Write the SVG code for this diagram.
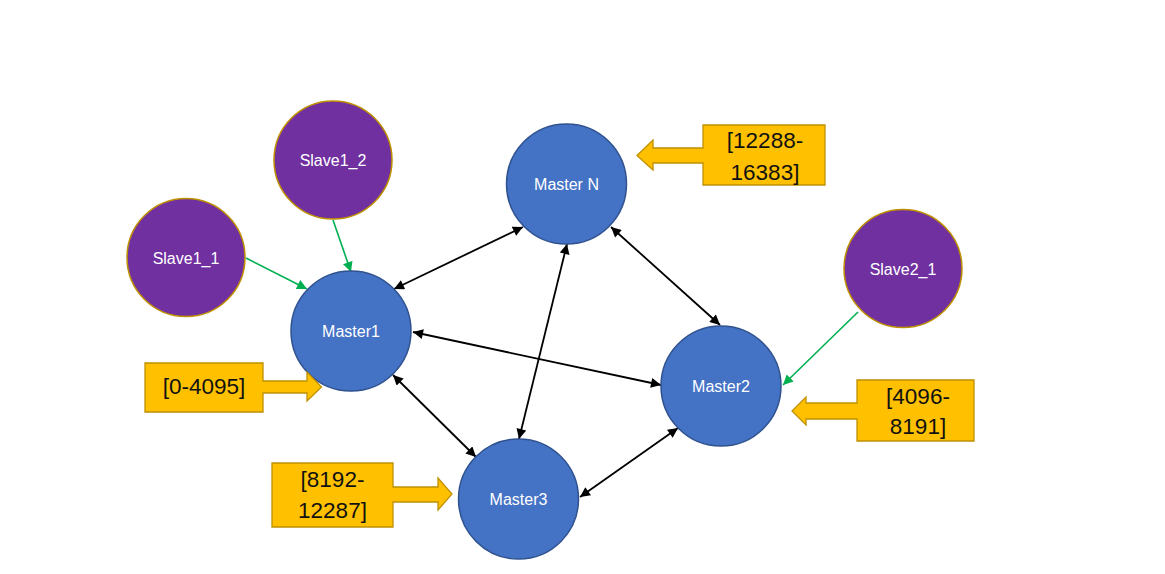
<svg xmlns="http://www.w3.org/2000/svg" width="1165" height="574" viewBox="0 0 1165 574">
<defs>
<marker id="ab" viewBox="0 0 10 10" refX="10" refY="5" markerWidth="11" markerHeight="10" markerUnits="userSpaceOnUse" orient="auto-start-reverse">
<path d="M0,0 L10,5 L0,10 Z" fill="#000"/>
</marker>
<marker id="ag" viewBox="0 0 10 10" refX="10" refY="5" markerWidth="11" markerHeight="10" markerUnits="userSpaceOnUse" orient="auto">
<path d="M0,0 L10,5 L0,10 Z" fill="#00B050"/>
</marker>
<style>
.master{fill:#4472C4;stroke:#2F528F;stroke-width:1.5}
.slave{fill:#7030A0;stroke:#BF9000;stroke-width:1.5}
.lbl{font-family:"Liberation Sans",Arial,sans-serif;font-size:16px;fill:#fff;text-anchor:middle}
.call{fill:#FFC000;stroke:#BF9000;stroke-width:1.3}
.ctxt{font-family:"Liberation Sans",Arial,sans-serif;font-size:22.5px;fill:#111;text-anchor:middle}
.blk{stroke:#000;stroke-width:1.8;fill:none;marker-start:url(#ab);marker-end:url(#ab)}
.grn{stroke:#00B050;stroke-width:1.6;fill:none;marker-end:url(#ag)}
</style>
</defs>
<rect width="1165" height="574" fill="#fff"/>
<g id="connectors">
<line class="blk" x1="394" y1="289" x2="523" y2="227"/>
<line class="blk" x1="413" y1="332" x2="661" y2="385"/>
<line class="blk" x1="393" y1="375" x2="476" y2="457"/>
<line class="blk" x1="567" y1="244" x2="519" y2="439"/>
<line class="blk" x1="611" y1="227" x2="720" y2="325"/>
<line class="blk" x1="580" y1="497" x2="678" y2="428"/>
<line class="grn" x1="246" y1="258" x2="307" y2="289"/>
<line class="grn" x1="333" y1="220" x2="351" y2="272"/>
<line class="grn" x1="858" y1="312" x2="783" y2="385"/>
</g>
<g id="slave1_2"><circle class="slave" cx="333" cy="160" r="59"/><text class="lbl" x="333" y="166">Slave1_2</text></g>
<g id="slave1_1"><circle class="slave" cx="186" cy="257.5" r="59"/><text class="lbl" x="186" y="263.5">Slave1_1</text></g>
<g id="slave2_1"><circle class="slave" cx="903" cy="268.5" r="59"/><text class="lbl" x="903" y="274.5">Slave2_1</text></g>
<g id="masterN"><circle class="master" cx="566.5" cy="184" r="60"/><text class="lbl" x="566.5" y="190">Master N</text></g>
<g id="master1"><circle class="master" cx="351" cy="331" r="60"/><text class="lbl" x="351" y="337">Master1</text></g>
<g id="master2"><circle class="master" cx="721" cy="386" r="60"/><text class="lbl" x="721" y="392">Master2</text></g>
<g id="master3"><circle class="master" cx="518.5" cy="499" r="60"/><text class="lbl" x="518.5" y="505">Master3</text></g>
<g id="callout1">
<path class="call" d="M145,363 H263 V381 H307 V372 L321.5,387 L307,401 V393 H263 V412 H145 Z"/>
<text class="ctxt" x="204" y="394">[0-4095]</text>
</g>
<g id="calloutN">
<path class="call" d="M825,125 V185 H703 V163 H653 V170 L637,155.5 L653,140 V148 H703 V125 Z"/>
<text class="ctxt" x="765" y="148">[12288-</text>
<text class="ctxt" x="765" y="180">16383]</text>
</g>
<g id="callout2">
<path class="call" d="M974,380 V441 H857 V419 H806 V425 L792,411 L806,397 V403 H857 V380 Z"/>
<text class="ctxt" x="918" y="404">[4096-</text>
<text class="ctxt" x="918" y="434">8191]</text>
</g>
<g id="callout3">
<path class="call" d="M272,463 H393 V487 H438 V478 L452,494 L438,510 V502 H393 V527 H272 Z"/>
<text class="ctxt" x="332.5" y="487">[8192-</text>
<text class="ctxt" x="332.5" y="518">12287]</text>
</g>
</svg>
